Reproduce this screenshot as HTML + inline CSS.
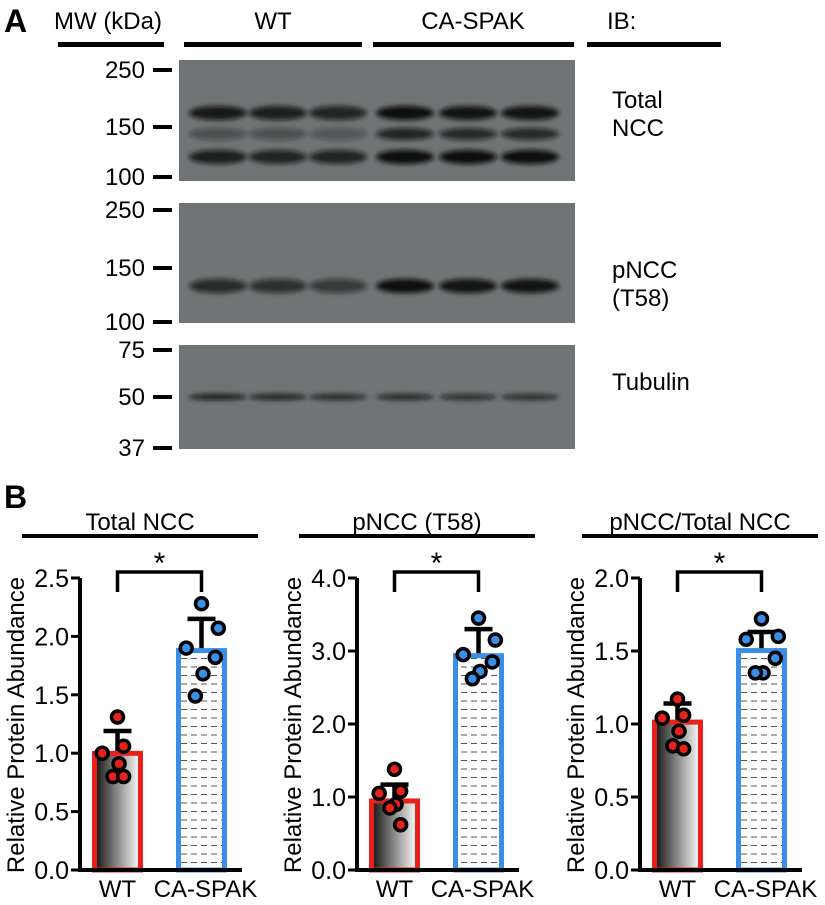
<!DOCTYPE html>
<html><head><meta charset="utf-8">
<style>
html,body{margin:0;padding:0;background:#fff;}
body{width:825px;height:900px;overflow:hidden;font-family:"Liberation Sans",Arial,sans-serif;}
svg text{font-family:"Liberation Sans",Arial,sans-serif;}
</style></head>
<body>
<svg id="fig" width="825" height="900" viewBox="0 0 825 900" xmlns="http://www.w3.org/2000/svg">
<defs>
<filter id="blur" x="-20%" y="-100%" width="140%" height="300%"><feGaussianBlur stdDeviation="2.5"/></filter>
<linearGradient id="wtgrad" x1="0" x2="1" y1="0" y2="0">
<stop offset="0" stop-color="#111"/><stop offset="0.5" stop-color="#8a8a8a"/><stop offset="1" stop-color="#fff"/>
</linearGradient>
<pattern id="dash" width="10" height="8.5" patternUnits="userSpaceOnUse">
<rect width="10" height="8.5" fill="#fff"/><line x1="1" y1="4" x2="7" y2="4" stroke="#555" stroke-width="1"/>
</pattern>
</defs>

<g>
<text x="4" y="32" font-size="32" font-weight="bold">A</text>
<text x="54" y="29" font-size="24">MW (kDa)</text>
<rect x="58" y="42" width="106" height="5" fill="#000"/>
<text x="273" y="29" font-size="24" text-anchor="middle">WT</text>
<rect x="184" y="42" width="178" height="5" fill="#000"/>
<text x="473" y="29" font-size="24" text-anchor="middle">CA-SPAK</text>
<rect x="373" y="42" width="201" height="5" fill="#000"/>
<text x="607" y="29" font-size="24">IB:</text>
<rect x="587" y="42" width="134" height="5" fill="#000"/>
<g id="blots"></g>
</g>

<g>
<text x="4" y="508" font-size="32" font-weight="bold">B</text>
<g id="charts"></g>
</g>
</svg>
<script>
var NS="http://www.w3.org/2000/svg";
function mk(tag,attrs,parent,txt){var e=document.createElementNS(NS,tag);for(var k in attrs)e.setAttribute(k,attrs[k]);if(txt!==undefined)e.textContent=txt;parent.appendChild(e);return e;}

// ---- Blot data ----
var laneCenters=[218,278,338,405,468,530];
var nccUpper=[0.9,0.85,0.8,1.0,0.95,0.95];
var nccMid=[0.4,0.4,0.35,0.8,0.75,0.75];
var nccLower=[0.85,0.8,0.8,1.0,1.0,1.0];
var pnccBand=[0.75,0.7,0.6,1.0,0.95,0.95];
var tubBand=[0.9,0.85,0.8,0.8,0.75,0.75];
var mw1=["250","150","100"], mw2=["250","150","100"], mw3=["75","50","37"];

var blots=document.getElementById('blots');
function blot(y0,h,name,bands,mwLabels,mwY,label,labelY){
  var g=mk('g',{},blots);
  
  
  var r=mk('rect',{x:179,y:y0,width:396,height:h,fill:'#6f7474'},g);
  
  
  bands.forEach(function(b){
    b.vals.forEach(function(v,i){
      var e=mk('ellipse',{cx:laneCenters[i],cy:b.y,rx:29,ry:b.ry,fill:'#111','fill-opacity':v,filter:'url(#blur)'},g);
      
      
    });
  });
  mwLabels.forEach(function(t,i){
    var tx=mk('text',{x:145,y:mwY[i]+8,'font-size':24,'text-anchor':'end'},g,t);
    
    
    mk('rect',{x:153,y:mwY[i]-2,width:19,height:4,fill:'#000'},g);
  });
  label.forEach(function(t,i){
    var tx=mk('text',{x:612,y:labelY+i*28,'font-size':24},g,t);
    
    
  });
}
blot(60,121,'total-ncc-blot',[{y:113,ry:7,vals:nccUpper},{y:134,ry:6,vals:nccMid},{y:157,ry:7,vals:nccLower}],mw1,[70,127,177],['Total','NCC'],108);
blot(203,120,'pncc-blot',[{y:286,ry:7,vals:pnccBand}],mw2,[210,268,322],['pNCC','(T58)'],278);
blot(345,104,'tubulin-blot',[{y:397,ry:3,vals:tubBand}],mw3,[350,397,448],['Tubulin'],390);

// ---- Chart data ----
var groups=["WT","CA-SPAK"];
var titles=["Total NCC","pNCC (T58)","pNCC/Total NCC"];
var maxes=[2.5,4.0,2.0];
var ticks1=["0.0","0.5","1.0","1.5","2.0","2.5"];
var ticks2=["0.0","1.0","2.0","3.0","4.0"];
var ticks3=["0.0","0.5","1.0","1.5","2.0"];
var means1=[1.02,1.90], sd1=[0.17,0.25];
var means2=[0.98,2.97], sd2=[0.19,0.33];
var means3=[1.03,1.52], sd3=[0.11,0.11];
var wtDots1=[1.31,1.06,1.00,0.91,0.80,0.80], caDots1=[2.28,2.07,1.90,1.82,1.68,1.49];
var wtDots2=[1.38,1.08,1.05,0.90,0.85,0.62], caDots2=[3.45,3.15,2.95,2.85,2.72,2.62];
var wtDots3=[1.17,1.06,1.04,0.95,0.85,0.83], caDots3=[1.72,1.60,1.58,1.45,1.35,1.35];

var charts=[
 {axisX:80,ticks:ticks1,max:maxes[0],means:means1,sd:sd1,dots:[wtDots1,caDots1],title:titles[0]},
 {axisX:357,ticks:ticks2,max:maxes[1],means:means2,sd:sd2,dots:[wtDots2,caDots2],title:titles[1]},
 {axisX:640,ticks:ticks3,max:maxes[2],means:means3,sd:sd3,dots:[wtDots3,caDots3],title:titles[2]}
];
var Y0=870, YTOP=578;
var jitter=[[0,0.2,-0.5,0.05,-0.15,0.2],[0,0.55,-0.5,0.45,0.05,-0.2]];
var cg=document.getElementById('charts');
charts.forEach(function(c,ci){
  var g=mk('g',{},cg);
  
  
  function y(v){return Y0-(v/c.max)*(Y0-YTOP);}
  var ax=c.axisX;
  var tt=mk('text',{x:ax+60,y:530,'font-size':24,'text-anchor':'middle'},g,c.title);
  
  
  mk('rect',{x:ax-58,y:534,width:236,height:4,fill:'#000'},g);
  var yt=mk('text',{x:0,y:0,'font-size':24,'text-anchor':'middle',transform:'translate('+(ax-56)+',725) rotate(-90)'},g,'Relative Protein Abundance');
  
  
  var bx=[ax+12,ax+96], bw=51;
  c.means.forEach(function(m,i){
    var top=y(m);
    var b=mk('rect',{x:bx[i]+2.5,y:top+2.5,width:bw-5,height:Y0-top-2.5,fill:i==0?'url(#wtgrad)':'url(#dash)',stroke:i==0?'#e8211c':'#3b8de6','stroke-width':5},g);
    
    
    var cx=bx[i]+bw/2;
    var eb=mk('path',{d:'M'+cx+' '+top+'V'+y(m+c.sd[i])+'M'+(cx-14)+' '+y(m+c.sd[i])+'H'+(cx+14),stroke:'#000','stroke-width':4.5,fill:'none'},g);
    
    
    c.dots[i].forEach(function(v,k){
      var d=mk('circle',{cx:cx+jitter[i][k]*bw*0.6,cy:y(v),r:6,fill:i==0?'#e8211c':'#3b8de6',stroke:'#000','stroke-width':3.5},g);
      
      
    });
  });
  mk('path',{d:'M'+ax+' '+(YTOP)+'V'+Y0+'H'+(ax+162),stroke:'#000','stroke-width':4,fill:'none'},g);
  c.ticks.forEach(function(t,i){
    var v=parseFloat(t), yy=y(v);
    mk('line',{x1:ax-9,x2:ax,y1:yy,y2:yy,stroke:'#000','stroke-width':3},g);
    var tx=mk('text',{x:ax-11,y:yy+9,'font-size':25,'text-anchor':'end'},g,t);
    
    
  });
  var x1=mk('text',{x:bx[0]+bw/2,y:897,'font-size':24,'text-anchor':'middle'},g,groups[0]);
  
  
  var x2=mk('text',{x:bx[1]+bw/2+4,y:897,'font-size':24,'text-anchor':'middle'},g,groups[1]);
  
  
  var l=bx[0]+bw/2, r=bx[1]+bw/2;
  var br=mk('path',{d:'M'+l+' '+(YTOP+14)+'V'+(YTOP-6)+'H'+r+'V'+(YTOP+14),stroke:'#000','stroke-width':3.5,fill:'none'},g);
  
  
  var st=mk('text',{x:(l+r)/2,y:YTOP-5,'font-size':30,'text-anchor':'middle'},g,'*');
  
  
});
</script>
</body></html>
